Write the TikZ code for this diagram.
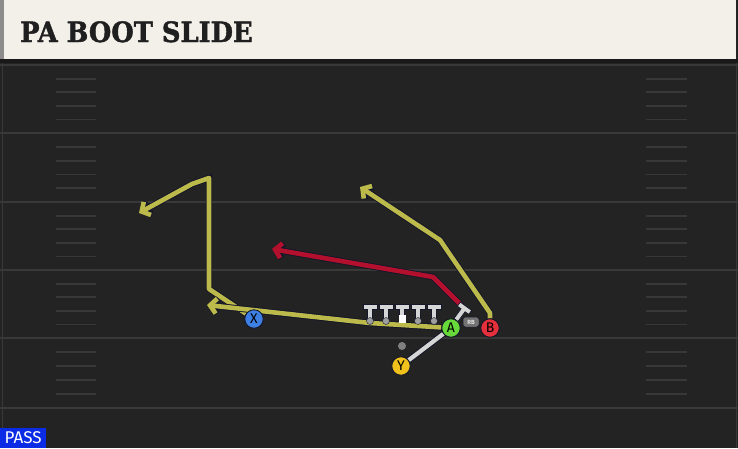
\documentclass[tikz,border=0pt]{standalone}
\usepackage{graphicx}
\usepackage{fontspec}
\setmainfont{DejaVu Sans}
\newfontfamily\titlefont[FakeBold=1.6]{DejaVu Serif Bold}
\newfontfamily\labelfont{Fira Sans}
\usetikzlibrary{arrows.meta}

\pgfdeclarelayer{field}
\pgfdeclarelayer{routes}
\pgfsetlayers{field,routes,main}

\definecolor{turf}{HTML}{232323}
\definecolor{yardline}{HTML}{393939}
\definecolor{hashmark}{HTML}{383838}
\definecolor{banner}{HTML}{F3F0E9}
\definecolor{routeyellow}{HTML}{BDBA4C}
\definecolor{routered}{HTML}{B3102E}
\definecolor{outline}{HTML}{14162A}
\definecolor{xblue}{HTML}{3E7FE3}
\definecolor{agreen}{HTML}{67D93A}
\definecolor{bred}{HTML}{E3303B}
\definecolor{yyellow}{HTML}{F1C21C}
\definecolor{lineman}{HTML}{D6D6D6}
\definecolor{passblue}{HTML}{0B2CE4}

\tikzset{
  route/.style={line width=4.6pt, line join=round,
    -{Straight Barb[length=6.5pt,width=15pt]},
    preaction={draw=outline, line width=6.4pt, -{Straight Barb[length=6.5pt,width=15pt]}}},
  yroute/.style={route, draw=routeyellow},
  rroute/.style={route, draw=routered},
  link/.style={draw=lineman, line width=4.2pt, preaction={draw=outline, line width=6pt}},
  player/.style={circle, draw=outline, line width=0.9pt, minimum size=18.5pt, inner sep=0pt,
    font=\labelfont\fontsize{14}{14}\selectfont, text=black},
  tee/.pic={
    \filldraw[lineman, draw=outline, line width=0.7pt]
      (-7,-17) -- (7,-17) -- (7,-12) -- (2.5,-12) -- (2.5,0) -- (-2.5,0)
      -- (-2.5,-12) -- (-7,-12) -- cycle;
  },
}

\begin{document}
\begin{tikzpicture}[x=1pt,y=-1pt]
\useasboundingbox (0,0) rectangle (738,448);

% field
\begin{pgfonlayer}{field}
\fill[turf] (0,0) rectangle (738,448);
\fill[banner] (4,0) rectangle (736,59);
\fill[black!45] (0,0) rectangle (4,59);
\fill[black!90] (0,59) rectangle (738,63);
\draw[yardline, line width=1pt] (2,63) -- (2,448) (736,63) -- (736,448);
\foreach \y in {65,133,202,270,338,408}
  \draw[yardline, line width=1.8pt] (0,\y) -- (738,\y);
\foreach \y/\n in {65/133,133/202,202/270,270/338,338/408}
  \foreach \k in {1,...,4} {
    \draw[hashmark, line width=1.8pt] (56,{\y+\k*(\n-\y)/5}) -- (96,{\y+\k*(\n-\y)/5});
    \draw[hashmark, line width=1.8pt] (646,{\y+\k*(\n-\y)/5}) -- (687,{\y+\k*(\n-\y)/5});
  }
\end{pgfonlayer}

\node[anchor=base west, inner sep=0pt, text=black!88,
  font=\titlefont\fontsize{28}{28}\selectfont] (title) at (20,42) {\scalebox{0.92}[1]{PA BOOT SLIDE}};
\node[anchor=south west, fill=passblue, minimum width=46pt, minimum height=20pt, inner sep=0pt,
  text=white, font=\labelfont\fontsize{17}{17}\selectfont] (pass) at (0,448) {PASS};

% line
\foreach \x in {370,386,418,434} {
  \pic at (\x,321) {tee};
  \fill[black!38, draw=outline, line width=0.4pt] (\x,321) circle (3.5);
}
\pic at (402,321) {tee};
\fill[white] (398.5,315) rectangle (405.5,322.5);

% players
\node[player, fill=xblue] (X) at (254,319) {X};
\node[player, fill=agreen] (A) at (451,328) {A};
\node[player, fill=bred] (B) at (490,328) {B};
\node[player, fill=yyellow] (Y) at (401,366) {Y};
\node[circle, fill=black!50, minimum size=8pt, inner sep=0pt] (dot) at (402,346) {};
\pic[rotate=-36] at (456,320) {tee};
\node[rounded corners=2.5pt, fill=black!55, draw=outline, line width=0.5pt, minimum width=16pt,
  minimum height=10pt, inner sep=0pt, text=black!12,
  font=\labelfont\bfseries\fontsize{6}{6}\selectfont] (rbtag) at (471,322) {RB};

\coordinate (xa) at (209,289);
\coordinate (xb) at (209,178);
\coordinate (xc) at (192,184);
\coordinate (xd) at (139,213);
\coordinate (aa) at (370,323);
\coordinate (ab) at (207,305);
\coordinate (ba) at (490,313);
\coordinate (bb) at (440,240);
\coordinate (bc) at (360,187);
\coordinate (rb) at (462,306);
\coordinate (ra) at (433,277);
\coordinate (rc) at (272,249);

% routes
\begin{pgfonlayer}{routes}
\draw[yroute] (X) -- (xa) -- (xb) -- (xc) -- (xd);
\draw[yroute] (A) -- (aa) -- (ab);
\draw[yroute] (B) -- (ba) -- (bb) -- (bc);
\draw[rroute] (rb) -- (ra) -- (rc);
\draw[link] (Y) -- (A);
\end{pgfonlayer}

\end{tikzpicture}
\end{document}
